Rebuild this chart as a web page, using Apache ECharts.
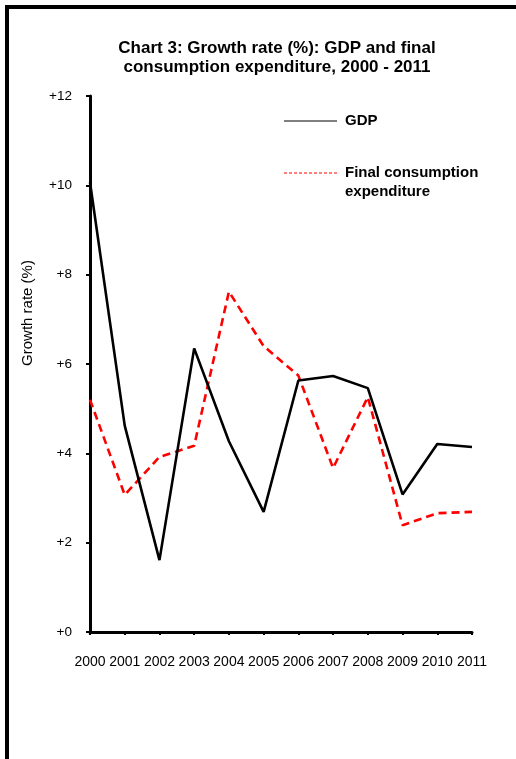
<!DOCTYPE html>
<html>
<head>
<meta charset="utf-8">
<script src="https://cdn.jsdelivr.net/npm/echarts@6/dist/echarts.min.js"></script>
<style>
  html, body { margin: 0; padding: 0; background: #fff; }
  #chart { width: 516px; height: 759px; }
</style>
</head>
<body>
<div id="chart"></div>
<script>
// Annual growth rates, per cent
const years = ['2000', '2001', '2002', '2003', '2004', '2005', '2006', '2007', '2008', '2009', '2010', '2011'];
const gdp = [10.07, 4.62, 1.61, 6.35, 4.27, 2.69, 5.63, 5.73, 5.46, 3.08, 4.21, 4.14];
const consumption = [5.2, 3.07, 3.92, 4.17, 7.62, 6.4, 5.74, 3.67, 5.26, 2.39, 2.66, 2.69];
const yTicks = [0, 2, 4, 6, 8, 10, 12];

const FONT = '"Liberation Sans", Arial, sans-serif';
const chart = echarts.init(document.getElementById('chart'), null, { renderer: 'canvas' });

chart.setOption({
  backgroundColor: '#ffffff',
  animation: false,
  textStyle: { fontFamily: FONT, color: '#000' },
  title: {
    text: 'Chart 3: Growth rate (%): GDP and final\nconsumption expenditure, 2000 - 2011',
    left: 272,
    top: 34,
    textAlign: 'center',
    textStyle: { fontFamily: FONT, fontSize: 17, fontWeight: 'bold', color: '#000', lineHeight: 19 }
  },
  grid: { left: 90, right: 44, top: 96, bottom: 127, containLabel: false },
  xAxis: {
    type: 'category',
    data: years,
    boundaryGap: false,
    axisLine: { lineStyle: { color: '#000', width: 3 } },
    axisTick: { show: true, length: 3, lineStyle: { color: '#000', width: 2 } },
    axisLabel: { color: '#000', fontFamily: FONT, fontSize: 14, margin: 23, interval: 0 },
    splitLine: { show: false }
  },
  yAxis: {
    type: 'value',
    min: yTicks[0],
    max: yTicks[yTicks.length - 1],
    interval: 2,
    axisLine: { show: true, lineStyle: { color: '#000', width: 3 } },
    axisTick: { show: true, length: 4, lineStyle: { color: '#000', width: 2 } },
    axisLabel: {
      color: '#000', fontFamily: FONT, fontSize: 13.5, margin: 18,
      formatter: v => '+' + v
    },
    splitLine: { show: false }
  },
  series: [
    {
      name: 'GDP',
      type: 'line',
      data: gdp,
      symbol: 'none',
      lineStyle: { color: '#000', width: 2.6 },
      z: 3
    },
    {
      name: 'Final consumption expenditure',
      type: 'line',
      data: consumption,
      symbol: 'none',
      lineStyle: { color: '#ff0000', width: 2.6, type: [8, 5] },
      z: 2
    }
  ],
  graphic: [
    // outer frame
    {
      type: 'rect',
      shape: { x: 7, y: 7, width: 560, height: 800 },
      style: { fill: null, stroke: '#000', lineWidth: 4 },
      silent: true
    },
    // y-axis title
    {
      type: 'text',
      x: 28, y: 313,
      rotation: Math.PI / 2,
      style: {
        text: 'Growth rate (%)', fontFamily: FONT, fontSize: 15, fill: '#000',
        textAlign: 'center', textVerticalAlign: 'middle'
      }
    },
    // legend
    {
      type: 'line',
      shape: { x1: 284, y1: 121, x2: 337, y2: 121 },
      style: { stroke: '#000', lineWidth: 1.2 }
    },
    {
      type: 'text',
      x: 345, y: 121,
      style: { text: 'GDP', fontFamily: FONT, fontSize: 15, fontWeight: 'bold', fill: '#000', textVerticalAlign: 'middle' }
    },
    {
      type: 'line',
      shape: { x1: 284, y1: 173, x2: 337, y2: 173 },
      style: { stroke: '#ff0000', lineWidth: 1.2, lineDash: [3, 2] }
    },
    {
      type: 'text',
      x: 345, y: 163,
      style: {
        text: 'Final consumption\nexpenditure', fontFamily: FONT, fontSize: 15, fontWeight: 'bold',
        fill: '#000', lineHeight: 19, textVerticalAlign: 'top'
      }
    }
  ]
});
</script>
</body>
</html>
